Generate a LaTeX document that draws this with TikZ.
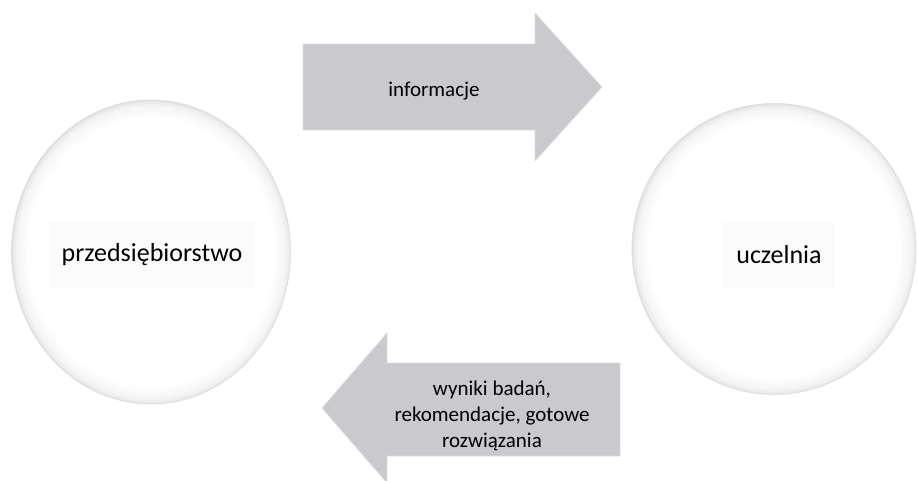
\documentclass[tikz,border=0pt]{standalone}
\usepackage{fontspec}
\setmainfont{Carlito}
\usepackage{tikz}
\usetikzlibrary{shapes.geometric}

\definecolor{arrowgray}{RGB}{201,201,206}
% white disc with a soft grey rim (the path edge sits at 25bp)
\pgfdeclareradialshading{rim}{\pgfpoint{0bp}{0bp}}{%
  color(0bp)=(white); color(22bp)=(white); color(24bp)=(black!4);
  color(24.7bp)=(black!8); color(25bp)=(black!13); color(50bp)=(black!13)}

\begin{document}
\begin{tikzpicture}[x=1pt,y=-1pt,
    ball/.style={ellipse,draw=black!12,line width=0.8pt,shading=rim,inner sep=0pt},
    balltext/.style={fill=black!1.5,minimum height=66pt,inner xsep=13pt,
      font=\fontsize{26}{30}\selectfont},
    arrowbox/.style={fill=arrowgray,draw=black!13,line width=0.8pt,line join=miter},
    arrowtext/.style={align=center,font=\fontsize{21}{26}\selectfont}]
    \useasboundingbox[fill=white] (0,0) rectangle (917,481);

    % the two partners
    \node[ball,minimum width=279pt,minimum height=304pt] (firm) at (151,252) {};
    \node[balltext] (firmtext) at (152,255) {przedsiębiorstwo};
    \node[ball,minimum width=284pt,minimum height=291pt] (uni) at (774,249) {};
    \node[balltext] (unitext) at (779,255) {uczelnia};

    % top arrow: firm -> uni
    \filldraw[arrowbox] (303,44) -- (535,44) -- (535,13) -- (602,87)
        -- (535,161) -- (535,130) -- (303,130) -- cycle;
    \node[arrowtext] (info) at (434,91) {informacje};

    % bottom arrow: uni -> firm
    \filldraw[arrowbox] (620,363) -- (387,363) -- (387,333) -- (322,408)
        -- (387,483) -- (387,456) -- (620,456) -- cycle;
    \node[arrowtext] (results) at (492,416) {wyniki badań,\\ rekomendacje, gotowe\\ rozwiązania};
\end{tikzpicture}
\end{document}
